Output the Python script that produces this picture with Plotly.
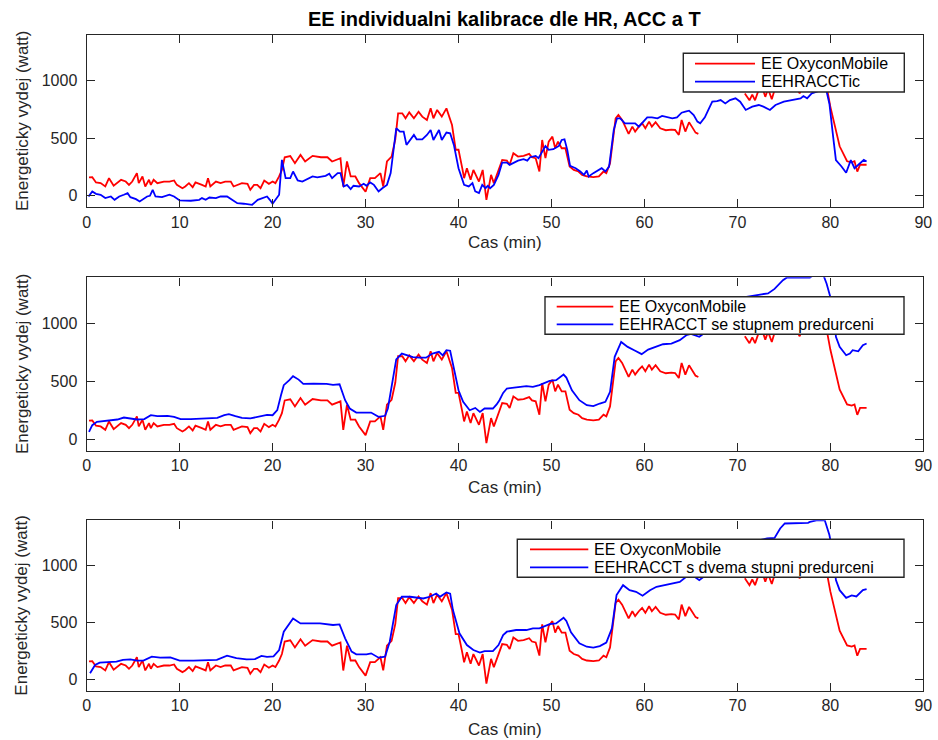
import plotly.graph_objects as go

# ---------------------------------------------------------------- text
title = "EE individualni kalibrace dle HR, ACC a T"
x_label = "Cas (min)"
y_label = "Energeticky vydej (watt)"
ref_name = "EE OxyconMobile"
model_names = [
    "EEHRACCTic",
    "EEHRACCT se stupnem predurceni",
    "EEHRACCT s dvema stupni predurceni",
]

# ---------------------------------------------------------------- data
# measured energy expenditure (OxyconMobile), time in minutes, watts
red_t = [0.25, 0.6, 1.0, 1.5, 2.0, 2.4, 2.9, 3.3, 3.7, 4.2, 4.55, 4.9, 5.4, 5.6, 6.0,
         6.3, 6.7, 6.9, 7.2, 7.6, 8.3, 8.9, 9.4, 9.7, 10.3, 10.6, 11.0, 11.4, 11.7,
         12.4, 12.8, 13.05, 13.3, 13.9, 14.4, 14.9, 15.5, 15.8, 16.2, 16.7, 17.3,
         17.6, 18.0, 18.35, 18.7, 19.1, 19.6, 20.0, 20.3, 20.7, 21.0, 21.3, 21.9,
         22.4, 23.0, 23.5, 24.3, 25.2, 25.9, 26.4, 27.3, 27.6, 28.0, 28.4, 28.9,
         29.3, 30.0, 30.5, 31.0, 31.6, 31.9, 32.3, 32.8, 33.2, 33.5, 33.95, 34.3,
         34.7, 35.2, 35.7, 36.1, 36.6, 37.0, 37.3, 37.7, 38.2, 38.7, 39.3, 39.7,
         40.0, 40.4, 40.6, 40.9, 41.3, 41.6, 42.2, 42.6, 43.0, 43.5, 43.8, 44.7,
         45.2, 45.5, 45.9, 46.4, 47.0, 47.6, 47.9, 48.3, 48.7, 49.0, 49.35, 49.7,
         50.1, 50.4, 50.7, 51.1, 51.5, 51.95, 52.4, 52.9, 53.3, 53.8, 54.5, 55.1,
         55.6, 55.9, 56.3, 56.9, 57.2, 57.6, 57.9, 58.3, 58.7, 59.0, 59.4, 59.75,
         60.1, 60.5, 60.8, 61.2, 61.7, 62.3, 62.9, 63.3, 63.7, 64.0, 64.4, 64.8,
         65.1, 65.5, 65.8, 68.0, 70.8, 71.3, 71.6, 71.9, 72.2, 72.5, 72.8, 73.0,
         73.3, 73.7, 74.0, 74.4, 74.8, 75.2, 75.6, 76.0, 76.4, 76.7, 77.0, 77.4,
         77.8, 78.2, 78.6, 79.0, 79.4, 79.7, 80.0, 80.5, 81.0, 81.8, 82.3, 82.6,
         82.9, 83.2, 83.9]
red_v = [160, 162, 116, 110, 81, 153, 87, 110, 139, 124, 95, 124, 197, 110, 168,
         81, 139, 95, 139, 110, 124, 124, 133, 95, 66, 81, 110, 75, 116,
         95, 81, 153, 81, 124, 110, 124, 124, 81, 95, 110, 104,
         52, 95, 95, 66, 133, 104, 124, 110, 168, 225, 335, 345,
         283, 355, 298, 347, 335, 335, 298, 327, 80, 298, 168, 168,
         110, 35, 153, 153, 197, 81, 298, 340, 490, 717, 717, 673,
         725, 673, 731, 688, 659, 760, 673, 746, 688, 760, 615, 400,
         400, 240, 153, 240, 139, 225, 124, 225, -35, 182, 110, 312,
         306, 269, 370, 341, 347, 364, 335, 327, 211, 485, 327, 471,
         514, 413, 471, 413, 413, 254, 225, 211, 182, 168, 162, 168,
         211, 197, 283, 673, 702, 659, 601, 538, 601, 558, 601, 630,
         587, 645, 601, 639, 587, 570, 575, 572, 529, 659, 558, 639,
         601, 549, 538, None, 890, 830, 880, 830, 900, 940, 910, 860,
         930, 840, 920, 960, 930, 970, 940, 960, 930, 890, 950, 980,
         950, 990, 960, 980, 950, 905, 775, 600, 430, 300, 290, 300,
         210, 270, 270]

# model with individual calibration (HR, ACC, T)
blue1_t = [0.2, 0.6, 1.0, 1.5, 2.0, 2.6, 3.0, 3.5, 4.0, 4.4, 4.7, 5.3, 5.7, 6.2, 6.5,
           6.8, 7.1, 7.4, 8.1, 8.9, 9.4, 10.0, 11.2, 12.1, 12.4, 12.8, 13.2, 13.9,
           14.4, 15.1, 15.7, 16.2, 16.9, 17.8, 18.4, 18.9, 19.4, 19.7, 20.0, 20.7,
           21.0, 21.4, 21.9, 22.2, 22.7, 23.2, 23.7, 24.3, 24.8, 25.3, 25.7, 26.1,
           26.4, 27.0, 27.3, 27.65, 28.0, 28.4, 28.7, 29.3, 29.8, 30.1, 30.5, 30.9,
           31.4, 31.8, 32.3, 32.7, 33.1, 33.3, 33.7, 34.1, 34.4, 34.8, 35.2, 35.5,
           36.1, 36.6, 37.0, 37.3, 37.9, 38.2, 38.7, 39.1, 39.5, 40.0, 40.6, 41.1,
           41.5, 41.8, 42.2, 42.55, 42.9, 43.15, 43.4, 43.8, 44.3, 44.7, 45.2, 45.5,
           45.9, 46.4, 47.0, 47.4, 47.7, 48.3, 48.6, 49.0, 49.35, 49.7, 50.2, 50.8,
           51.1, 51.4, 51.7, 52.0, 52.6, 53.1, 53.5, 53.8, 54.0, 54.5, 55.1, 55.4,
           55.8, 56.2, 56.7, 57.05, 57.4, 57.9, 58.5, 59.0, 59.4, 59.9, 60.3, 60.8,
           61.4, 61.9, 62.4, 63.0, 63.5, 64.0, 64.4, 64.8, 65.3, 65.7, 66.0, 66.5,
           66.9, 67.3, 67.8, 68.2, 68.7, 69.2, 69.8, 70.3, 70.9, 71.6, 72.3, 72.8,
           73.5, 74.1, 75.0, 76.0, 76.8, 77.1, 77.5, 78.0, 78.6, 79.1, 79.5, 79.9,
           80.3, 80.6, 81.2, 81.7, 82.2, 82.6, 83.2, 83.6, 83.9]
blue1_v = [-6, 38, 17, 9, -20, -6, -35, -6, 9, 23, -12, -29, -49, -20, -6,
           0, 52, -6, -12, 9, -6, -40, -43, -35, -20, -35, -15, -20,
           -6, -6, -35, -64, -69, -78, -35, -20, -6, -35, -69, 9,
           312, 153, 153, 211, 133, 124, 145, 168, 160, 168, 173, 191,
           153, 197, 197, 81, 95, 58, 87, 81, 104, 87, 116, 95,
           38, 66, 95, 197, 442, 587, 558, 558, 442, 485, 529, 491,
           491, 529, 572, 485, 572, 485, 549, 543, 442, 240, 95, 81,
           110, 38, 23, 95, 66, 87, 66, 95, 182, 289, 289, 269,
           283, 306, 318, 306, 335, 347, 327, 384, 433, 399, 405, 433,
           485, 491, 399, 260, 240, 211, 182, 220, 168, 197, 225, 240,
           211, 254, 572, 673, 673, 630, 630, 630, 601, 645, 682, 682,
           673, 694, 682, 673, 682, 722, 731, 740, 702, 645, 630, 682,
           751, 818, 823, 832, 803, 832, 847, 818, 746, 775, 789, 775,
           746, 789, 818, 832, 847, 867, 847, 890, 905, 920, 940, 800,
           515, 310, 255, 200, 310, 240, 283, 312, 298]

# model with one stage of pre-classification
blue2_t = [0.25, 0.6, 1.1, 1.9, 2.6, 3.3, 4.0, 4.7, 5.4, 6.2, 6.9, 7.6, 8.7, 9.4,
           10.1, 11.2, 12.3, 13.3, 14.05, 14.8, 15.3, 16.0, 16.7, 17.6, 18.35,
           18.9, 19.4, 20.0, 20.5, 20.9, 21.2, 21.8, 22.2, 22.8, 23.3, 24.4, 25.8,
           26.5, 27.2, 27.8, 28.3, 29.0, 30.1, 30.6, 31.4, 32.1, 32.4, 32.8, 33.3,
           33.9, 34.4, 35.1, 35.8, 36.5, 37.2, 37.9, 38.3, 38.7, 39.1, 39.5, 40.0,
           40.5, 41.2, 41.8, 42.3, 42.8, 43.7, 44.1, 44.4, 44.8, 45.2, 46.2, 47.3,
           48.0, 48.7, 49.8, 50.5, 51.3, 51.6, 52.2, 53.0, 53.8, 54.5, 55.2, 55.8,
           56.3, 56.8, 57.5, 58.2, 58.9, 59.7, 60.4, 61.1, 62.0, 62.9, 63.8, 64.5,
           65.0, 65.9, 66.5, 67.5, 68.5, 69.5, 70.3, 71.0, 72.6, 73.3, 74.0, 74.9,
           75.3, 76.0, 77.8, 78.2, 79.2, 79.6, 80.0, 80.4, 80.6, 81.0, 81.7, 82.1,
           82.4, 83.0, 83.5, 83.9]
blue2_v = [63, 121, 150, 158, 164, 170, 187, 179, 170, 173, 207, 199, 202, 193,
           173, 173, 179, 179, 184, 207, 216, 199, 184, 179, 193,
           207, 210, 207, 251, 380, 467, 510, 545, 515, 478, 481, 478,
           470, 475, 337, 265, 230, 228, 230, 193, 202, 265, 450, 690,
           740, 725, 710, 705, 705, 740, 755, 725, 770, 765, 625, 423,
           323, 250, 270, 236, 265, 265, 300, 337, 400, 438, 447, 458,
           452, 467, 504, 510, 559, 533, 423, 337, 294, 285, 308, 323,
           409, 712, 841, 798, 769, 735, 775, 798, 821, 827, 856, 899,
           910, 885, 920, 990, 1060, 1120, 1180, 1230, 1253, 1260, 1300, 1375,
           1397, 1397, 1397, 1420, 1430, 1345, 1230, 1086, 885, 798, 726, 740,
           769, 760, 812, 827]

# model with two stages of pre-classification
blue3_t = [0.36, 0.9, 1.4, 2.5, 3.2, 3.9, 4.7, 5.4, 6.1, 7.0, 7.9, 9.0, 10.0, 11.5,
           12.9, 14.0, 15.1, 16.1, 17.2, 18.1, 18.8, 19.4, 20.1, 20.7, 21.2, 21.7,
           22.2, 23.0, 23.7, 25.1, 26.5, 27.2, 27.8, 28.5, 29.0, 30.1, 30.6, 31.4,
           32.1, 32.6, 33.3, 33.9, 34.8, 35.5, 36.2, 36.9, 37.6, 38.0, 38.7, 39.1,
           39.4, 40.1, 40.9, 41.6, 42.3, 42.8, 43.7, 44.3, 44.8, 45.2, 46.2, 47.3,
           48.0, 48.7, 49.8, 50.5, 51.3, 51.6, 52.1, 53.0, 53.8, 54.5, 55.2, 55.9,
           56.5, 57.0, 57.7, 58.4, 59.1, 59.8, 60.6, 61.3, 62.2, 63.1, 63.8, 64.5,
           65.2, 65.9, 66.5, 67.5, 68.5, 69.5, 70.3, 71.0, 72.0, 73.2, 74.0, 74.6,
           75.1, 76.0, 77.6, 77.8, 78.5, 79.4, 79.9, 80.3, 80.6, 81.0, 81.7, 82.3,
           82.8, 83.5, 83.9]
blue3_v = [56, 129, 149, 158, 158, 173, 178, 167, 167, 202, 193, 196, 167, 167,
           173, 173, 211, 188, 178, 180, 208, 200, 205, 260, 421, 480,
           538, 494, 494, 494, 480, 485, 363, 246, 222, 222, 231, 193,
           202, 333, 655, 728, 728, 719, 713, 728, 757, 728, 766, 755,
           611, 407, 304, 260, 237, 251, 251, 304, 392, 421, 436, 436,
           450, 450, 488, 494, 544, 515, 415, 319, 289, 281, 295, 325,
           450, 743, 830, 786, 772, 737, 786, 816, 830, 845, 859, 903,
           915, 874, 910, 975, 1040, 1100, 1150, 1200, 1220, 1240, 1245, 1328,
           1372, 1375, 1378, 1386, 1400, 1400, 1270, 1100, 875, 786, 719, 740,
           731, 786, 795]

x_ticks = [0, 10, 20, 30, 40, 50, 60, 70, 80, 90]
y_ticks = [0, 500, 1000]
x_range = [0, 90]
y_range = [-100, 1400]

# ---------------------------------------------------------------- layout (pixels)
W, H = 938, 740
FONT = "Liberation Sans, Arial, Helvetica, sans-serif"
INK = "#262626"
RED, BLUE = "#ff0000", "#0000ff"
LINE_W = 1.8

PLOT_X0, PLOT_X1 = 86.7, 923.3
panels_px = [(34.7, 207.3), (277.3, 450.7), (520.3, 691.0)]
xlabel_y = [243, 487, 729]
# legend: box x0, x1, y0, y1, line x0, line x1, text x, row1 y, row2 y
legend_px = [
    (683.3, 904.3, 53.3, 92.0, 695.0, 755.0, 760.0, 63.6, 81.6),
    (545.0, 904.0, 296.7, 334.3, 556.7, 613.3, 618.3, 306.6, 324.4),
    (517.3, 904.0, 539.3, 577.3, 530.0, 588.3, 593.0, 549.3, 567.3),
]


def px(x):
    return x / W


def py(y):
    return 1 - y / H


fig = go.Figure()
series = [(blue1_t, blue1_v), (blue2_t, blue2_v), (blue3_t, blue3_v)]
shapes, annotations = [], []
layout = dict(
    width=W, height=H,
    margin=dict(l=0, r=0, t=0, b=0),
    paper_bgcolor="white", plot_bgcolor="white",
    showlegend=False,
    font=dict(family=FONT, size=16, color=INK),
)

for i, ((top, bottom), (bt, bv)) in enumerate(zip(panels_px, series)):
    k = "" if i == 0 else str(i + 1)
    xa, ya = "x" + k, "y" + k
    fig.add_trace(go.Scatter(x=red_t, y=red_v, mode="lines", name=ref_name,
                             line=dict(color=RED, width=LINE_W), xaxis=xa, yaxis=ya,
                             connectgaps=False))
    fig.add_trace(go.Scatter(x=bt, y=bv, mode="lines", name=model_names[i],
                             line=dict(color=BLUE, width=LINE_W), xaxis=xa, yaxis=ya))
    common = dict(showline=True, linecolor=INK, linewidth=1.4, mirror="allticks",
                  ticks="inside", ticklen=8, tickwidth=1.4, tickcolor=INK,
                  showgrid=False, zeroline=False, automargin=False,
                  tickfont=dict(family=FONT, size=16, color=INK))
    layout["xaxis" + k] = dict(common, domain=[px(PLOT_X0), px(PLOT_X1)],
                               range=x_range, tickvals=x_ticks, anchor=ya)
    layout["yaxis" + k] = dict(common, domain=[py(bottom), py(top)],
                               range=y_range, tickvals=y_ticks, anchor=xa,
                               ticklabelstandoff=5)

    # axis labels
    annotations.append(dict(text=x_label, x=px((PLOT_X0 + PLOT_X1) / 2), y=py(xlabel_y[i]),
                            xref="paper", yref="paper", showarrow=False,
                            font=dict(size=17), xanchor="center", yanchor="middle"))
    annotations.append(dict(text=y_label, x=px(22), y=py((top + bottom) / 2),
                            xref="paper", yref="paper", showarrow=False, textangle=-90,
                            font=dict(size=17), xanchor="center", yanchor="middle"))

    # legend box
    bx0, bx1, by0, by1, lx0, lx1, tx, r1, r2 = legend_px[i]
    shapes.append(dict(type="rect", xref="paper", yref="paper",
                       x0=px(bx0), x1=px(bx1), y0=py(by1), y1=py(by0),
                       line=dict(color=INK, width=1.4), fillcolor="white", layer="above"))
    for ry, col, name in [(r1, RED, ref_name), (r2, BLUE, model_names[i])]:
        shapes.append(dict(type="line", xref="paper", yref="paper",
                           x0=px(lx0), x1=px(lx1), y0=py(ry), y1=py(ry),
                           line=dict(color=col, width=LINE_W), layer="above"))
        annotations.append(dict(text=name, x=px(tx), y=py(ry), xref="paper", yref="paper",
                                showarrow=False, xanchor="left", yanchor="middle",
                                borderpad=0, font=dict(size=16, color="black")))

annotations.append(dict(text="<b>" + title + "</b>", x=px((PLOT_X0 + PLOT_X1) / 2), y=py(19),
                        xref="paper", yref="paper", showarrow=False,
                        xanchor="center", yanchor="middle",
                        font=dict(size=20, color="black")))

layout["shapes"] = shapes
layout["annotations"] = annotations
fig.update_layout(**layout)
fig.write_html("out.html")
